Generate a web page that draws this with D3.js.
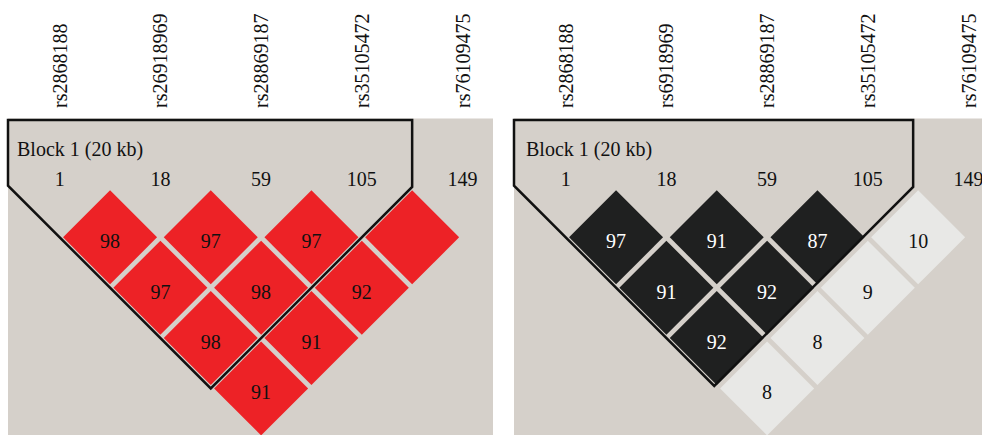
<!DOCTYPE html>
<html>
<head>
<meta charset="utf-8">
<script src="https://cdn.jsdelivr.net/npm/d3@7"></script>
<style>
  html, body { margin: 0; padding: 0; background: #ffffff; }
  svg { display: block; }
  text { font-family: "Liberation Serif", "Times New Roman", serif; }
</style>
</head>
<body>
<svg id="chart" width="982" height="435"></svg>
<script>
// ---------- data ----------
const markersLeft = ["rs2868188", "rs26918969", "rs28869187", "rs35105472", "rs76109475"];
const markersRight = ["rs2868188", "rs6918969", "rs28869187", "rs35105472", "rs76109475"];
const markerPositions = ["1", "18", "59", "105", "149"];
const blockLabel = "Block 1 (20 kb)";
const blockMarkers = [0, 3];           // block spans marker indexes 0..3

// pairs (first marker index, second marker index)
const pairFirst  = [0, 1, 2, 3, 0, 1, 2, 0, 1, 0];
const pairSecond = [1, 2, 3, 4, 2, 3, 4, 3, 4, 4];
// left panel: D' values (100 = shown blank)
const dPrimeValues = [98, 97, 97, 100, 97, 98, 92, 98, 91, 91];
// right panel: r^2 values
const r2Values = [97, 91, 87, 10, 91, 92, 9, 92, 8, 8];

// ---------- layout ----------
const svg = d3.select("#chart");
const panelWidth = 485, panelTop = 118.5;
const spacing = 100.7;        // distance between markers
const cellHalf = 47;          // drawn half-diagonal of a cell
const gridTop = 187;          // y of the top of the triangle grid

const panels = [
  { offset: 8,   markers: markersLeft,  values: dPrimeValues, kind: "dprime", inset: 0, labelX: 17 },
  { offset: 514, markers: markersRight, values: r2Values,     kind: "r2",     inset: 5, labelX: 526 }
];

const red = "#ed2226", dark = "#1f2020", light = "#e8e8e6", bg = "#d5d0ca";

panels.forEach(p => {
  const g = svg.append("g");
  const x = d3.scaleLinear().domain([0, 4]).range([p.offset + 51.7, p.offset + 51.7 + 4 * spacing]);
  const y = d3.scaleLinear().domain([0, 4]).range([gridTop, gridTop + 4 * spacing / 2]);

  // background
  g.append("rect")
    .attr("x", p.offset).attr("y", panelTop)
    .attr("width", panelWidth).attr("height", 435 - panelTop + 5)
    .attr("fill", bg);

  // cells
  const cells = pairFirst.map((a, k) => {
    const b = pairSecond[k];
    return { a, b, v: p.values[k], cx: (x(a) + x(b)) / 2, cy: y(b - a - 0.5) + 0 };
  });
  cells.forEach(c => { c.cy = gridTop + (c.b - c.a) * spacing / 2; });

  const fillOf = v => p.kind === "dprime" ? red : (v >= 50 ? dark : light);

  g.selectAll("path.cell").data(cells).enter().append("path")
    .attr("class", "cell")
    .attr("d", c => `M${c.cx},${c.cy - cellHalf}L${c.cx + cellHalf},${c.cy}L${c.cx},${c.cy + cellHalf}L${c.cx - cellHalf},${c.cy}Z`)
    .attr("fill", c => fillOf(c.v));

  // block outline
  const a0 = blockMarkers[0], a1 = blockMarkers[1];
  const bx = (x(a0) + x(a1)) / 2, by = gridTop + (a1 - a0) * spacing / 2 + spacing / 2;
  const left = p.offset;
  const rightX = x(a1) + spacing / 2 - p.inset;
  // right diagonal: x + y = const through (rightX, gridTop)
  const rc = rightX + gridTop;
  // left diagonal: y - x = const through bottom corner
  const lc = by - bx;
  const bottomX = (rc - lc) / 2, bottomY = (rc + lc) / 2;
  const leftY = lc + left;
  const outline = [[left, 120], [rightX, 120], [rightX, gridTop], [bottomX, bottomY], [left, leftY]];
  g.append("path")
    .attr("d", d3.line()(outline) + "Z")
    .attr("fill", "none").attr("stroke", "#111").attr("stroke-width", 2.5)
    .attr("stroke-linejoin", "miter");

  // cell labels
  g.selectAll("text.val").data(cells.filter(c => c.v < 100)).enter().append("text")
    .attr("class", "val")
    .attr("x", c => c.cx).attr("y", c => c.cy + 11)
    .attr("text-anchor", "middle")
    .attr("font-size", 20)
    .attr("fill", c => (p.kind === "r2" && c.v >= 50) ? "#ffffff" : "#111")
    .text(c => c.v);

  // marker position numbers
  g.selectAll("text.pos").data(markerPositions).enter().append("text")
    .attr("class", "pos")
    .attr("x", (d, i) => x(i)).attr("y", 186)
    .attr("text-anchor", "middle").attr("font-size", 20).attr("fill", "#111")
    .text(d => d);

  // marker names (rotated)
  g.selectAll("text.name").data(p.markers).enter().append("text")
    .attr("class", "name")
    .attr("transform", (d, i) => `translate(${x(i) + 7},108) rotate(-90)`)
    .attr("text-anchor", "start").attr("font-size", 20).attr("fill", "#111")
    .text(d => d);

  // block label
  g.append("text")
    .attr("x", p.labelX).attr("y", 156)
    .attr("font-size", 20).attr("fill", "#111")
    .text(blockLabel);
});
</script>
</body>
</html>
